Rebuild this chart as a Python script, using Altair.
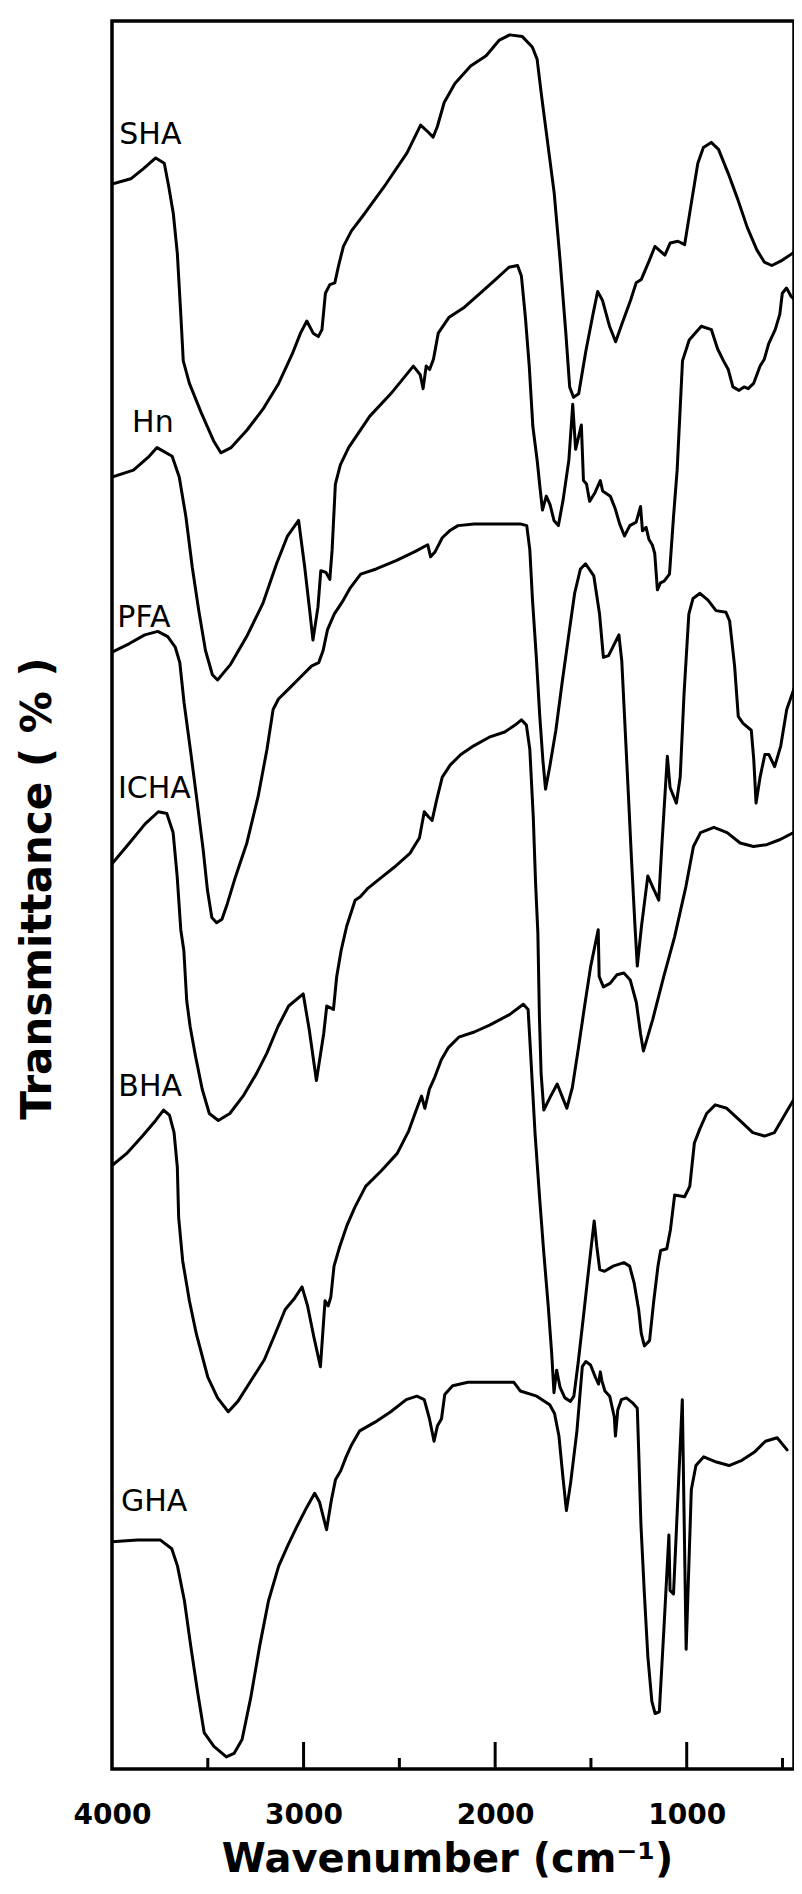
import altair as alt
import pandas as pd

# ---- data (wavenumber in cm-1, transmittance in arbitrary %-units, offset stack) ----
samples = ["SHA", "Hn", "PFA", "ICHA", "BHA", "GHA"]

wn_sha = [4000, 3902, 3834, 3772, 3727, 3703, 3680, 3659, 3640, 3628, 3596, 3534, 3470, 3432, 3378, 3296, 3213,
          3130, 3059, 3016, 2983, 2950, 2923, 2904, 2886, 2863, 2837, 2815, 2792, 2750, 2681, 2570, 2460, 2389,
          2350, 2324, 2302, 2266, 2210, 2128, 2047, 1978, 1924, 1858, 1806, 1781, 1759, 1725, 1692, 1661, 1631,
          1611, 1591, 1564, 1526, 1489, 1465, 1440, 1403, 1371, 1336, 1293, 1264, 1237, 1195, 1166, 1135, 1114,
          1086, 1046, 1011, 973, 942, 913, 872, 834, 783, 733, 684, 634, 595, 556, 502, 448, 406, 350]
t_sha = [90.6, 90.9, 91.5, 92.1, 91.8, 90.4, 88.9, 86.6, 82.9, 80.4, 79.1, 77.4, 75.8, 75.1, 75.4, 76.4, 77.6,
         79.1, 80.8, 82.0, 82.7, 82.0, 81.8, 82.2, 84.3, 84.8, 84.9, 86.0, 87.0, 87.9, 88.9, 90.6, 92.4, 94.0,
         93.6, 93.3, 93.9, 95.3, 96.4, 97.4, 98.0, 98.9, 99.2, 99.1, 98.5, 97.8, 95.8, 92.9, 90.1, 86.2, 82.0,
         78.9, 78.3, 78.5, 81.0, 83.1, 84.4, 83.9, 82.4, 81.5, 82.6, 83.9, 84.9, 85.1, 86.2, 87.0, 86.7, 86.5,
         87.2, 87.3, 87.1, 89.7, 91.8, 92.7, 93.0, 92.6, 91.2, 89.7, 88.1, 86.8, 86.1, 85.9, 86.2, 86.6, 87.0, 87.0]

wn_hn = [4000, 3888, 3806, 3765, 3686, 3649, 3614, 3581, 3547, 3512, 3476, 3449, 3381, 3297, 3213, 3141, 3084,
         3026, 2994, 2968, 2951, 2925, 2910, 2883, 2863, 2851, 2834, 2808, 2765, 2655, 2545, 2427, 2391, 2376,
         2360, 2342, 2322, 2297, 2242, 2160, 2079, 1997, 1928, 1883, 1863, 1842, 1822, 1803, 1781, 1766, 1753,
         1733, 1713, 1693, 1670, 1645, 1615, 1595, 1580, 1550, 1539, 1523, 1507, 1479, 1451, 1439, 1399, 1374,
         1350, 1325, 1297, 1264, 1241, 1231, 1212, 1197, 1180, 1167, 1153, 1137, 1118, 1090, 1069, 1050, 1022,
         987, 924, 871, 839, 808, 783, 759, 727, 701, 679, 651, 617, 595, 572, 538, 514, 501, 479, 454, 422, 379, 346]
t_hn = [73.7, 74.1, 74.9, 75.4, 74.9, 73.7, 71.4, 68.5, 66.0, 63.7, 62.3, 62.0, 62.9, 64.5, 66.4, 68.7, 70.3,
        71.2, 68.5, 66.0, 64.3, 66.2, 68.3, 68.2, 67.8, 69.5, 73.3, 74.4, 75.4, 77.2, 78.5, 80.1, 79.6, 78.8,
        80.1, 79.9, 80.5, 82.0, 82.9, 83.5, 84.3, 85.1, 85.8, 85.9, 85.3, 82.9, 80.1, 76.6, 74.7, 73.1, 71.8,
        72.6, 72.1, 71.2, 70.9, 72.4, 74.7, 77.9, 75.3, 76.7, 73.5, 73.3, 72.3, 72.8, 73.5, 72.9, 72.6, 71.9,
        71.0, 70.3, 70.9, 71.1, 72.0, 70.6, 70.8, 70.1, 69.8, 69.3, 67.2, 67.6, 67.7, 68.1, 71.4, 74.1, 80.4,
        81.6, 82.4, 82.2, 81.1, 80.4, 79.9, 78.9, 78.7, 78.9, 78.8, 79.1, 80.1, 80.5, 81.4, 82.2, 83.1, 84.3,
        84.6, 84.1, 83.8, 84.0, 84.2]

wn_pfa = [4000, 3909, 3829, 3761, 3709, 3670, 3646, 3624, 3591, 3557, 3524, 3502, 3479, 3454, 3426, 3398, 3354,
          3296, 3237, 3191, 3159, 3131, 3076, 3022, 2959, 2921, 2898, 2875, 2840, 2798, 2757, 2702, 2621, 2514,
          2419, 2352, 2337, 2313, 2276, 2238, 2194, 2109, 1976, 1869, 1835, 1819, 1805, 1785, 1767, 1751, 1737,
          1715, 1683, 1651, 1617, 1585, 1555, 1528, 1485, 1455, 1435, 1408, 1354, 1339, 1322, 1305, 1288, 1270,
          1258, 1236, 1203, 1175, 1146, 1129, 1101, 1087, 1054, 1034, 1014, 989, 967, 931, 889, 847, 795, 776,
          750, 731, 706, 663, 650, 638, 617, 592, 571, 541, 509, 478, 440, 385]
t_pfa = [63.6, 64.1, 64.6, 64.8, 64.5, 63.9, 63.0, 60.7, 58.0, 55.1, 52.2, 49.9, 48.3, 48.0, 48.2, 49.1, 50.7,
         52.6, 55.3, 58.0, 60.3, 60.9, 61.5, 62.1, 62.8, 63.0, 63.7, 64.9, 65.8, 66.5, 67.3, 68.1, 68.4, 68.9,
         69.4, 69.8, 69.1, 69.4, 70.2, 70.6, 70.9, 71.0, 71.0, 71.0, 70.9, 69.5, 66.6, 63.3, 59.9, 57.4, 55.7,
         57.0, 59.1, 61.8, 64.5, 67.0, 68.4, 68.7, 68.0, 65.8, 63.3, 63.4, 64.6, 63.1, 59.3, 55.5, 51.6, 47.8,
         45.5, 47.8, 50.7, 50.0, 49.3, 52.6, 57.6, 55.8, 54.9, 56.4, 61.2, 65.8, 66.7, 67.0, 66.6, 66.0, 65.9,
         65.4, 62.8, 59.9, 59.5, 59.1, 57.4, 54.9, 56.4, 57.7, 57.7, 57.0, 58.2, 60.3, 61.5, 63.0]

wn_icha = [4000, 3909, 3827, 3758, 3714, 3681, 3660, 3641, 3625, 3610, 3592, 3564, 3529, 3492, 3445, 3385, 3316,
           3246, 3191, 3134, 3078, 3002, 2970, 2933, 2895, 2879, 2844, 2827, 2804, 2775, 2731, 2704, 2663, 2595,
           2527, 2445, 2395, 2370, 2347, 2329, 2305, 2276, 2234, 2179, 2112, 2031, 1950, 1896, 1863, 1837, 1819,
           1801, 1789, 1777, 1769, 1760, 1746, 1710, 1676, 1651, 1626, 1597, 1565, 1533, 1501, 1462, 1457, 1435,
           1400, 1364, 1328, 1295, 1263, 1241, 1226, 1178, 1120, 1063, 1004, 965, 928, 858, 789, 721, 652, 582,
           512, 442, 395]
t_icha = [51.4, 52.6, 53.7, 54.4, 54.3, 53.2, 50.7, 47.6, 46.4, 43.5, 42.0, 40.3, 38.4, 37.0, 36.6, 37.0, 38.0,
          39.3, 40.5, 42.0, 43.2, 43.9, 41.8, 38.9, 41.6, 43.2, 43.0, 44.9, 46.4, 47.8, 49.3, 49.5, 50.0, 50.6,
          51.2, 52.0, 52.9, 54.4, 54.1, 53.9, 55.1, 56.4, 57.1, 57.7, 58.2, 58.7, 59.0, 59.4, 59.7, 59.4, 58.0,
          54.1, 50.3, 47.4, 42.6, 39.3, 37.2, 38.0, 38.7, 38.0, 37.3, 38.5, 40.8, 43.2, 45.5, 47.6, 44.9, 44.3,
          44.5, 45.0, 45.1, 44.7, 43.4, 41.6, 40.6, 42.4, 44.9, 47.2, 50.1, 52.4, 53.2, 53.5, 53.2, 52.6, 52.4,
          52.5, 52.8, 53.2, 53.7]

wn_bha = [4000, 3923, 3841, 3772, 3731, 3700, 3676, 3659, 3652, 3631, 3596, 3560, 3524, 3500, 3449, 3393, 3343,
          3274, 3205, 3148, 3096, 3050, 3008, 2979, 2946, 2912, 2888, 2872, 2858, 2841, 2812, 2775, 2732, 2676,
          2594, 2511, 2451, 2405, 2384, 2367, 2343, 2315, 2281, 2244, 2190, 2109, 2029, 1925, 1853, 1828, 1816,
          1792, 1767, 1747, 1723, 1705, 1693, 1679, 1661, 1636, 1607, 1589, 1567, 1539, 1510, 1483, 1469, 1454,
          1429, 1384, 1328, 1298, 1274, 1251, 1237, 1221, 1194, 1172, 1150, 1136, 1104, 1085, 1063, 1011, 984,
          960, 932, 896, 851, 791, 723, 655, 594, 542, 479, 431]
t_bha = [34.0, 34.7, 35.7, 36.6, 37.2, 36.9, 35.9, 33.9, 31.0, 28.5, 26.2, 24.3, 22.8, 21.8, 20.6, 19.8, 20.4,
         21.6, 22.8, 24.3, 25.7, 26.3, 27.0, 25.9, 24.1, 22.4, 26.2, 25.9, 26.4, 28.2, 29.3, 30.5, 31.6, 32.8,
         33.7, 34.7, 36.0, 37.4, 38.0, 37.3, 38.4, 39.1, 40.1, 40.8, 41.4, 41.7, 42.1, 42.7, 43.3, 43.0, 40.7,
         35.9, 32.0, 29.1, 25.9, 23.2, 20.9, 22.2, 21.2, 20.6, 20.4, 20.7, 22.6, 25.3, 28.2, 30.8, 29.3, 28.0,
         27.9, 28.2, 28.4, 28.2, 27.2, 25.7, 24.3, 23.6, 23.9, 26.2, 28.2, 29.1, 29.2, 30.3, 32.3, 32.2, 32.8,
         35.3, 36.1, 37.0, 37.5, 37.3, 36.6, 35.9, 35.7, 35.9, 37.1, 38.0]

wn_gha = [4000, 3867, 3747, 3688, 3658, 3622, 3589, 3554, 3519, 3468, 3403, 3363, 3321, 3276, 3229, 3183, 3130,
          3082, 3034, 2983, 2942, 2917, 2880, 2855, 2833, 2806, 2778, 2749, 2707, 2627, 2545, 2464, 2409, 2370,
          2343, 2319, 2301, 2280, 2263, 2222, 2142, 2008, 1902, 1869, 1783, 1715, 1690, 1667, 1645, 1628, 1606,
          1573, 1545, 1527, 1502, 1477, 1460, 1451, 1443, 1427, 1402, 1378, 1372, 1360, 1341, 1315, 1281, 1258,
          1250, 1239, 1221, 1203, 1182, 1165, 1143, 1119, 1093, 1087, 1069, 1023, 1013, 1003, 976, 952, 911, 845,
          779, 712, 644, 589, 528, 476]
t_gha = [12.3, 12.4, 12.4, 11.9, 10.9, 8.9, 6.3, 3.7, 1.3, 0.5, -0.1, 0.1, 0.9, 3.3, 6.3, 8.9, 10.9,
         12.1, 13.2, 14.3, 15.1, 14.6, 13.0, 14.7, 15.9, 16.4, 17.2, 17.9, 18.7, 19.2, 19.8, 20.5, 20.7, 20.5,
         19.4, 18.1, 19.0, 19.4, 20.8, 21.3, 21.5, 21.5, 21.5, 21.0, 20.7, 20.2, 19.7, 18.4, 15.9, 14.1, 15.7,
         18.7, 22.4, 22.7, 22.5, 21.8, 21.4, 22.1, 21.6, 21.0, 20.7, 19.5, 18.4, 19.9, 20.5, 20.6, 20.3, 20.0,
         17.3, 13.3, 9.3, 5.7, 3.1, 2.4, 2.5, 7.3, 12.7, 9.5, 9.3, 20.5, 13.3, 6.1, 15.3, 16.7, 17.2, 16.9,
         16.7, 17.0, 17.5, 18.1, 18.3, 17.6]

# curve labels (anchor: left edge of text, vertical centre)
label_wn = [3962, 3895, 3972, 3969, 3967, 3953]
label_t = [93.4, 76.8, 65.6, 55.7, 38.5, 14.6]

# x-axis tick marks
major_ticks = [3000, 2000, 1000]
minor_ticks = [3500, 2500, 1500, 500]
tick_labels = [4000, 3000, 2000, 1000]

# ---- build tables ----
series = [wn_sha, wn_hn, wn_pfa, wn_icha, wn_bha, wn_gha]
values = [t_sha, t_hn, t_pfa, t_icha, t_bha, t_gha]
rows = []
for name, wns, ts in zip(samples, series, values):
    for i, (w, t) in enumerate(zip(wns, ts)):
        rows.append({"sample": name, "wavenumber": w, "T": t, "idx": i})
df = pd.DataFrame(rows)
lab_df = pd.DataFrame({"sample": samples, "wavenumber": label_wn, "T": label_t})
major_df = pd.DataFrame({"wavenumber": major_ticks})
minor_df = pd.DataFrame({"wavenumber": minor_ticks})

W, H = 682, 1748
FONT = "DejaVu Sans"
xscale = alt.Scale(domain=[4000, 440], nice=False, zero=False)
yscale = alt.Scale(domain=[-0.8, 100], nice=False, zero=False)

x_axis = alt.Axis(
    values=tick_labels, format="d", labelFont=FONT, labelFontSize=28, labelFontWeight="bold",
    labelColor="black", labelBaseline="alphabetic", labelPadding=54, labelFlush=False,
    labelOverlap=False, ticks=False, domain=False, grid=False,
    title="Wavenumber (cm⁻¹)", titleFont=FONT, titleFontSize=40, titleFontWeight="bold",
    titleColor="black", titleX=335, titleY=102, titleAlign="center", titleBaseline="alphabetic",
)
y_axis = alt.Axis(
    labels=False, ticks=False, domain=False, grid=False,
    title="Transmittance ( % )", titleFont=FONT, titleFontSize=42, titleFontWeight="bold",
    titleColor="black", titleAngle=270, titleX=-75, titleY=867, titleAlign="center",
    titleBaseline="middle",
)

lines = alt.Chart(df).mark_line(
    color="black", strokeWidth=3, clip=True, strokeJoin="round", strokeCap="round"
).encode(
    x=alt.X("wavenumber:Q", scale=xscale, axis=x_axis),
    y=alt.Y("T:Q", scale=yscale, axis=y_axis),
    detail="sample:N",
    order="idx:Q",
)

major = alt.Chart(major_df).mark_rule(color="black", strokeWidth=3).encode(
    x=alt.X("wavenumber:Q", scale=xscale),
    y=alt.value(H),
    y2=alt.value(H - 27),
)
minor = alt.Chart(minor_df).mark_rule(color="black", strokeWidth=3).encode(
    x=alt.X("wavenumber:Q", scale=xscale),
    y=alt.value(H),
    y2=alt.value(H - 11),
)

labels = alt.Chart(lab_df).mark_text(
    align="left", baseline="middle", font=FONT, fontSize=30, color="black"
).encode(
    x=alt.X("wavenumber:Q", scale=xscale),
    y=alt.Y("T:Q", scale=yscale),
    text="sample:N",
)

chart = alt.layer(lines, major, minor, labels).properties(
    width=W,
    height=H,
    padding={"left": 104, "top": 13, "right": 0, "bottom": 110},
    autosize=alt.AutoSizeParams(type="none"),
).configure_view(stroke="black", strokeWidth=3.5)

chart.save("out.html", embed_options={"renderer": "svg", "actions": False})
